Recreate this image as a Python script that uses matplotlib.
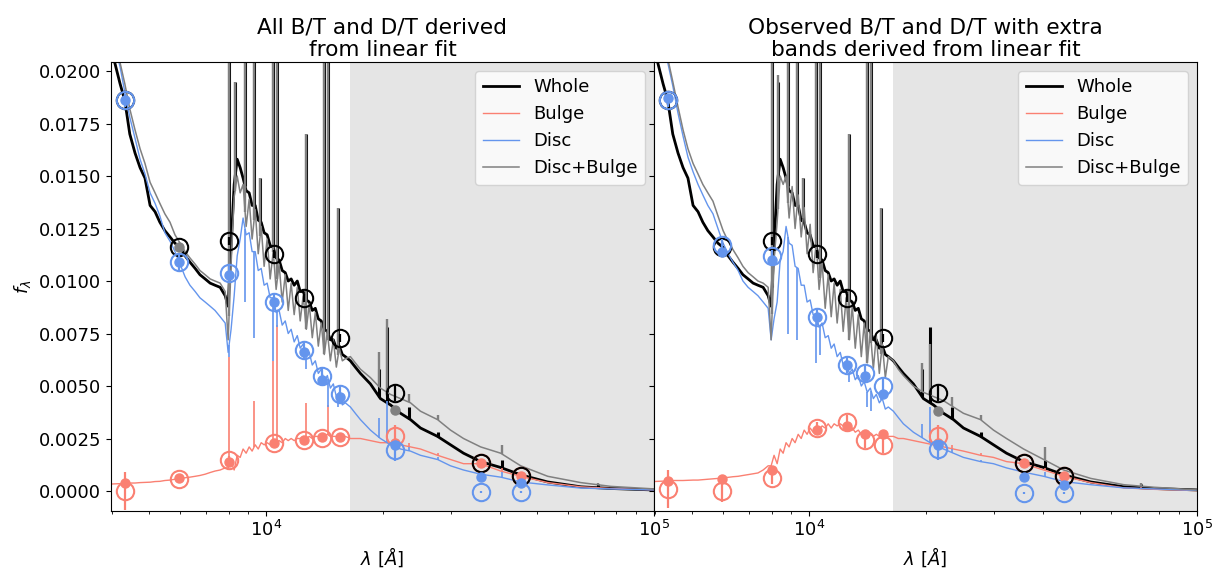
import numpy as np
import matplotlib
matplotlib.use("Agg")
import matplotlib.pyplot as plt
from matplotlib.ticker import FormatStrFormatter, MultipleLocator

nan = np.nan

# ---------------------------------------------------------------- spectra
# wavelength grid [Angstrom]
wave = [3980, 4070, 4200, 4320, 4450, 4590, 4730, 4870, 5020, 5170, 5320, 5480,
        5650, 5820, 6000, 6180, 6360, 6560, 6750, 6960, 7170, 7380, 7610, 7840,
        7980, 8120, 8270, 8420, 8570, 8720, 8880, 9040, 9200, 9370, 9540, 9710,
        9880, 10060, 10240, 10430, 10610, 10800, 11000, 11200, 11400, 11600,
        11810, 12030, 12240, 12460, 12690, 12920, 13150, 13390, 13630, 13870,
        14120, 14380, 14640, 14900, 15170, 15440, 15720, 16000,
        16490, 16980, 17500, 18570, 19710, 20920, 22210, 23560, 25000, 27670,
        29880, 32280, 35730, 40250, 45330, 53220, 64760, 77430, 100000]

# observed whole-galaxy spectrum (same in both panels)
whole_flux = [0.0215, 0.0204, 0.0194, 0.0186, 0.0170, 0.0161, 0.0154, 0.0149, 0.0136, 0.0133,
              0.0128, 0.0124, 0.0121, 0.0118, 0.0116, 0.0112, 0.0109, 0.0106, 0.0103, 0.0101,
              0.0099, 0.0098, 0.0097, 0.0093,
              0.0088, 0.0117, 0.0146, 0.0158, 0.0154, 0.0149, 0.0143, 0.0142, 0.0136, 0.0136,
              0.0129, 0.0128, 0.0123, 0.0122, 0.0117, 0.0116, 0.0111, 0.0110, 0.0105, 0.0104,
              0.0100, 0.0101, 0.0098, 0.0100, 0.0095, 0.0095, 0.0091, 0.0090, 0.0086, 0.0087,
              0.0082, 0.0081, 0.0077, 0.0076, 0.0072, 0.0072, 0.0068, 0.0069, 0.0065, 0.0064,
              0.0062, 0.0059, 0.0056, 0.0051, 0.0044, 0.0041, 0.0037, 0.0034, 0.0030, 0.0026,
              0.0022, 0.0018, 0.0014, 0.00112, 0.00077, 0.00043, 0.0002, 0.00012, 0.00005]

# left panel: all B/T, D/T from the linear fit
bulge_flux_fit = [0.00033, 0.00034, 0.00035, 0.00037, 0.00038, 0.00038, 0.0004, 0.00041, 0.00042, 0.00045,
                  0.00046, 0.0005, 0.00052, 0.00056, 0.0006, 0.00063, 0.00066, 0.0007, 0.00074, 0.0008,
                  0.00088, 0.00095, 0.0010, 0.0011,
                  0.0011, 0.0014, 0.0010, 0.0017, 0.0016, 0.0020, 0.0018, 0.0021, 0.0019, 0.0022,
                  0.0020, 0.0023, 0.0022, 0.0023, 0.0022, 0.0024, 0.0023, 0.0024, 0.0023, 0.0025,
                  0.0024, 0.0025, 0.0024, 0.0025, 0.0025, 0.0026, 0.0025, 0.0026, 0.0025, 0.0026,
                  0.0026, 0.0026, 0.0026, 0.0027, 0.0026, 0.0026, 0.0026, 0.0026, 0.0026, 0.0026,
                  0.0025, 0.0025, 0.0025, 0.0024, 0.0023, 0.0023, 0.0022, 0.0021, 0.0020, 0.0017,
                  0.0015, 0.0013, 0.0013, 0.00095, 0.0007, 0.0004, 0.0002, 0.00012, 0.00005]
disc_flux_fit = [0.0222, 0.0212, 0.0202, 0.0190, 0.0178, 0.0168, 0.0158, 0.0151, 0.0142, 0.0137,
                 0.0131, 0.0123, 0.0119, 0.0114, 0.0108, 0.0102, 0.0098, 0.0095, 0.0092, 0.0090,
                 0.0088, 0.0086, 0.0083, 0.0080,
                 0.0066, 0.0077, 0.0093, 0.0112, 0.0120, 0.0130, 0.0122, 0.0123, 0.0114, 0.0114,
                 0.0105, 0.0106, 0.0098, 0.0099, 0.0092, 0.0092, 0.0085, 0.0086, 0.0079, 0.0081,
                 0.0075, 0.0077, 0.0071, 0.0074, 0.0068, 0.0070, 0.0064, 0.0066, 0.0060, 0.0062,
                 0.0056, 0.0058, 0.0052, 0.0055, 0.0049, 0.0051, 0.0045, 0.0047, 0.0041, 0.0042,
                 0.0040, 0.0037, 0.0034, 0.0029, 0.0025, 0.0022, 0.0020, 0.0019, 0.0017, 0.0015,
                 0.0012, 0.0010, 0.0008, 0.00066, 0.00043, 0.00029, 0.00014, 0.0001, 0.00005]
sum_flux_fit = [0.0222, 0.0213, 0.0204, 0.0194, 0.0182, 0.0172, 0.0163, 0.0156, 0.0147, 0.0142,
                0.0137, 0.0132, 0.0128, 0.0122, 0.0118, 0.0114, 0.0111, 0.0108, 0.0105, 0.0103,
                0.0101, 0.0100, 0.0099, 0.0095,
                0.0072, 0.0108, 0.0140, 0.0150, 0.0142, 0.0146, 0.0126, 0.0139, 0.0120, 0.0134,
                0.0113, 0.0126, 0.0107, 0.0120, 0.0101, 0.0114, 0.0096, 0.0108, 0.0090, 0.0103,
                0.0086, 0.0099, 0.0084, 0.0097, 0.0081, 0.0093, 0.0077, 0.0089, 0.0073, 0.0085,
                0.0069, 0.0080, 0.0065, 0.0076, 0.0062, 0.0072, 0.0059, 0.0068, 0.0062, 0.0063,
                0.0064, 0.0061, 0.0058, 0.0054, 0.0049, 0.0046, 0.0044, 0.0042, 0.0038, 0.0034,
                0.0029, 0.0025, 0.0021, 0.0018, 0.0012, 0.0007, 0.0004, 0.00022, 0.0001]

# right panel: observed B/T, D/T plus extra bands from the fit
bulge_flux_obs = [0.00045, 0.00046, 0.00047, 0.00048, 0.0005, 0.0005, 0.0005, 0.00051, 0.00052, 0.00052,
                  0.00054, 0.00056, 0.00058, 0.0006, 0.00063, 0.00065, 0.00068, 0.0007, 0.00074, 0.00078,
                  0.00082, 0.00086, 0.0010, 0.0012,
                  0.0012, 0.0017, 0.0013, 0.0020, 0.0018, 0.0023, 0.0021, 0.0025, 0.0023, 0.0027,
                  0.0025, 0.0029, 0.0027, 0.0030, 0.0028, 0.0031, 0.0029, 0.0031, 0.0030, 0.0032,
                  0.0030, 0.0032, 0.0031, 0.0032, 0.0031, 0.0032, 0.0029, 0.0030, 0.0028, 0.0029,
                  0.0027, 0.0028, 0.0026, 0.0027, 0.0026, 0.0027, 0.0026, 0.0026, 0.0025, 0.0026,
                  0.0026, 0.0025, 0.0025, 0.0024, 0.0023, 0.0022, 0.0021, 0.0020, 0.0019, 0.0017,
                  0.0016, 0.0014, 0.0013, 0.0010, 0.0007, 0.0004, 0.00015, 0.00008, 0.00002]
disc_flux_obs = [0.0238, 0.0230, 0.0219, 0.0204, 0.0193, 0.0180, 0.0169, 0.0159, 0.0152, 0.0146,
                 0.0141, 0.0136, 0.0132, 0.0125, 0.0118, 0.0113, 0.0109, 0.0105, 0.0100, 0.0097,
                 0.0095, 0.0093, 0.0090, 0.0087,
                 0.0072, 0.0082, 0.0090, 0.0110, 0.0114, 0.0126, 0.0118, 0.0117, 0.0107, 0.0106,
                 0.0098, 0.0098, 0.0090, 0.0091, 0.0084, 0.0084, 0.0078, 0.0080, 0.0073, 0.0074,
                 0.0068, 0.0070, 0.0064, 0.0066, 0.0060, 0.0062, 0.0056, 0.0058, 0.0053, 0.0055,
                 0.0050, 0.0052, 0.0047, 0.0049, 0.0044, 0.0046, 0.0042, 0.0044, 0.0039, 0.0040,
                 0.0038, 0.0035, 0.0032, 0.0028, 0.0025, 0.0022, 0.0020, 0.0018, 0.0016, 0.0014,
                 0.0013, 0.0011, 0.0009, 0.0007, 0.00045, 0.0003, 0.00015, 0.0001, 0.00003]
sum_flux_obs = [0.0240, 0.0232, 0.0221, 0.0206, 0.0195, 0.0183, 0.0172, 0.0163, 0.0156, 0.0151,
                0.0146, 0.0142, 0.0138, 0.0131, 0.0124, 0.0119, 0.0115, 0.0111, 0.0107, 0.0104,
                0.0102, 0.0100, 0.0099, 0.0097,
                0.0072, 0.0110, 0.0128, 0.0150, 0.0146, 0.0150, 0.0130, 0.0145, 0.0125, 0.0141,
                0.0121, 0.0135, 0.0113, 0.0127, 0.0104, 0.0118, 0.0096, 0.0109, 0.0087, 0.0103,
                0.0083, 0.0099, 0.0080, 0.0096, 0.0076, 0.0092, 0.0072, 0.0088, 0.0068, 0.0084,
                0.0064, 0.0080, 0.0061, 0.0076, 0.0058, 0.0074, 0.0056, 0.0070, 0.0054, 0.0064,
                0.0062, 0.0058, 0.0055, 0.0050, 0.0047, 0.0045, 0.0043, 0.0040, 0.0037, 0.0034,
                0.0029, 0.0025, 0.0020, 0.0015, 0.0010, 0.0006, 0.0003, 0.00018, 0.00005]

# ---------------------------------------------------------------- emission features
line_wave = [8025, 8313, 8824, 9311, 9650, 10425, 10690, 12690, 14122, 14460, 15350,
             19590, 20540, 23400, 27700, 40450, 71600]
whole_peak = [0.03, 0.0195, 0.03, 0.03, 0.0149, 0.03, 0.03, 0.0170, 0.03, 0.03, 0.0135,
              0.0058, 0.0078, 0.0040, 0.0028, 0.0015, 0.00035]
sum_peak_fit = [0.03, 0.0195, 0.03, 0.03, 0.0149, 0.03, 0.03, 0.0170, 0.03, 0.03, 0.0135,
                0.0066, 0.0082, 0.0046, 0.0036, 0.0022, 0.0004]
sum_peak_obs = [0.03, 0.0198, 0.03, 0.03, 0.0149, 0.03, 0.03, 0.0170, 0.03, 0.03, 0.0135,
                0.0061, 0.0070, 0.0045, 0.0036, 0.0021, 0.0004]
disc_peak_fit = [nan, nan, nan, nan, nan, nan, nan, nan, nan, nan, nan,
                 0.0035, 0.0043, 0.0021, 0.0016, 0.0009, 0.00015]
disc_peak_obs = [nan, nan, nan, nan, nan, nan, nan, nan, nan, nan, nan,
                 0.0032, 0.0040, 0.0020, 0.0015, 0.0009, 0.00015]
bulge_peak_fit = [0.0064, nan, nan, 0.0043, nan, 0.0062, 0.0079, 0.0042, nan, 0.0041, nan,
                  nan, nan, 0.0023, 0.0018, 0.0011, 0.0002]
bulge_peak_obs = [nan, nan, nan, nan, nan, nan, nan, nan, nan, nan, nan,
                  nan, nan, 0.0022, 0.0018, 0.0011, 0.0002]
disc_dip_fit = [0.0064, nan, 0.0090, 0.0073, nan, 0.0062, 0.0078, 0.0058, 0.0051, 0.0040, 0.0040,
                nan, nan, nan, nan, nan, nan]
disc_dip_obs = [nan, nan, 0.0075, 0.0072, nan, 0.0061, 0.0065, 0.0052, 0.0040, 0.0038, 0.0045,
                nan, nan, nan, nan, nan, nan]

# ---------------------------------------------------------------- photometry
band_wave = [4320, 5960, 8020, 10490, 12540, 13950, 15530, 21540, 35750, 45300]

whole_phot = [0.0186, 0.0116, 0.0119, 0.0113, 0.0092, nan, 0.0073, 0.00467, 0.00133, 0.00071]
whole_err = [0.0002, 0.0002, 0.0002, 0.0002, 0.0002, nan, 0.0002, 0.0004, 0.0001, 0.0001]

bulge_phot_fit = [0.0000, 0.00057, 0.00148, 0.00229, 0.00243, 0.00252, 0.00257, 0.00262, 0.00133, 0.00071]
bulge_err_fit = [0.0009, 0.0002, 0.0002, 0.0002, 0.0002, 0.0002, 0.0002, 0.0005, 0.0001, 0.0001]
bulge_model_fit = [0.00038, 0.00062, 0.0014, 0.0023, 0.00243, 0.00257, 0.00257, 0.0023, 0.00133, 0.00071]
disc_phot_fit = [0.0186, 0.0109, 0.0104, 0.0090, 0.0067, 0.0055, 0.0046, 0.00195, -0.00005, -0.00005]
disc_err_fit = [0.0003, 0.0004, 0.0004, 0.0004, 0.0004, 0.0004, 0.0004, 0.0005, 0.00005, 0.00005]
disc_model_fit = [0.0186, 0.0109, 0.0103, 0.0090, 0.0066, 0.0053, 0.0045, 0.0022, 0.00067, 0.00038]
sum_model_fit = [nan, 0.0116, nan, nan, nan, nan, nan, 0.00386, nan, nan]

bulge_phot_obs = [0.0001, 0.0000, 0.00062, 0.0030, 0.0033, 0.00243, 0.00219, 0.00262, 0.00133, 0.00071]
bulge_err_obs = [0.0009, 0.0005, 0.0003, 0.0003, 0.0003, 0.0004, 0.0004, 0.0005, 0.0001, 0.0001]
bulge_model_obs = [0.0005, 0.00055, 0.0010, 0.0029, 0.0031, 0.0027, 0.0027, 0.0023, 0.00133, 0.00071]
disc_phot_obs = [0.0186, 0.0117, 0.0112, 0.0083, 0.0060, 0.0056, 0.0050, 0.0020, -0.0001, -0.0001]
disc_err_obs = [0.0003, 0.0003, 0.0003, 0.0004, 0.0004, 0.0004, 0.0004, 0.0005, 0.00005, 0.00005]
disc_model_obs = [0.0187, 0.0114, 0.0110, 0.0083, 0.0060, 0.0055, 0.0046, 0.0022, 0.00067, 0.0003]
sum_model_obs = [nan, nan, nan, nan, nan, nan, nan, 0.0038, nan, nan]

titles = ["All B/T and D/T derived\nfrom linear fit",
          "Observed B/T and D/T with extra\nbands derived from linear fit"]

# ---------------------------------------------------------------- drawing
C_WHOLE, C_BULGE, C_DISC, C_SUM = "black", "salmon", "cornflowerblue", "grey"

plt.rcParams["font.family"] = ["DejaVu Sans"]
plt.rcParams["font.size"] = 13

fig, axes = plt.subplots(1, 2, figsize=(12.25, 5.71), dpi=100, sharey=True)
fig.subplots_adjust(left=0.0906, right=0.9771, top=0.8914, bottom=0.1059, wspace=0)

panels = [
    dict(bulge=bulge_flux_fit, disc=disc_flux_fit, tot=sum_flux_fit,
         sum_peak=sum_peak_fit, disc_peak=disc_peak_fit, bulge_peak=bulge_peak_fit,
         disc_dip=disc_dip_fit,
         bphot=bulge_phot_fit, berr=bulge_err_fit, bmod=bulge_model_fit,
         dphot=disc_phot_fit, derr=disc_err_fit, dmod=disc_model_fit, smod=sum_model_fit),
    dict(bulge=bulge_flux_obs, disc=disc_flux_obs, tot=sum_flux_obs,
         sum_peak=sum_peak_obs, disc_peak=disc_peak_obs, bulge_peak=bulge_peak_obs,
         disc_dip=disc_dip_obs,
         bphot=bulge_phot_obs, berr=bulge_err_obs, bmod=bulge_model_obs,
         dphot=disc_phot_obs, derr=disc_err_obs, dmod=disc_model_obs, smod=sum_model_obs),
]

lw_arr = np.array(line_wave, dtype=float)


def spikes(ax, flux, tops, color, lw, z):
    tops = np.array(tops, dtype=float)
    ok = ~np.isnan(tops)
    base = np.interp(lw_arr[ok], wave, flux)
    ax.vlines(lw_arr[ok], base, tops[ok], color=color, lw=lw, zorder=z)


def dips(ax, flux, bottoms, color, lw, z):
    bottoms = np.array(bottoms, dtype=float)
    ok = ~np.isnan(bottoms)
    base = np.interp(lw_arr[ok], wave, flux)
    ax.vlines(lw_arr[ok], bottoms[ok], base, color=color, lw=lw, zorder=z)


def photometry(ax, vals, errs, color, z):
    ax.errorbar(band_wave, vals, yerr=errs, fmt="o", ms=12.5, mfc="none", mec=color,
                mew=1.5, ecolor=color, elinewidth=1.6, capsize=0, zorder=z)


for ax, p, title in zip(axes, panels, titles):
    ax.axvspan(16500, 1e5, color="grey", alpha=0.2, lw=0, zorder=0)

    h_whole, = ax.plot(wave, whole_flux, color=C_WHOLE, lw=2, label="Whole", zorder=2)
    spikes(ax, whole_flux, whole_peak, C_WHOLE, 2.2, 2)

    h_bulge, = ax.plot(wave, p["bulge"], color=C_BULGE, lw=1, label="Bulge", zorder=2.1)
    spikes(ax, p["bulge"], p["bulge_peak"], C_BULGE, 1.2, 2.1)

    h_disc, = ax.plot(wave, p["disc"], color=C_DISC, lw=1, label="Disc", zorder=2.2)
    spikes(ax, p["disc"], p["disc_peak"], C_DISC, 1.2, 2.2)
    dips(ax, p["disc"], p["disc_dip"], C_DISC, 1.2, 2.2)

    h_sum, = ax.plot(wave, p["tot"], color=C_SUM, lw=1.1, label="Disc+Bulge", zorder=2.3)
    spikes(ax, p["tot"], p["sum_peak"], C_SUM, 1.7, 2.3)

    # photometry: open circles are measured fluxes, dots are model fluxes
    photometry(ax, p["bphot"], p["berr"], C_BULGE, 3)
    photometry(ax, whole_phot, whole_err, C_WHOLE, 3.1)
    photometry(ax, p["dphot"], p["derr"], C_DISC, 3.2)
    ax.plot(band_wave, p["bmod"], "o", color=C_BULGE, ms=6.5, zorder=3.3)
    ax.plot(band_wave, p["dmod"], "o", color=C_DISC, ms=6.5, zorder=3.4)
    ax.plot(band_wave, p["smod"], "o", color=C_SUM, ms=6.5, zorder=3.5)

    ax.set_xscale("log")
    ax.set_xlim(3980, 1e5)
    ax.set_ylim(-0.00093, 0.02043)
    ax.set_xlabel(r"$\lambda$ [$\AA$]")
    ax.set_title(title, fontsize=15.6, pad=4)
    ax.legend(handles=[h_whole, h_bulge, h_disc, h_sum], loc="upper right", fontsize=13)

axes[0].yaxis.set_major_locator(MultipleLocator(0.0025))
axes[0].yaxis.set_major_formatter(FormatStrFormatter("%.4f"))
axes[0].set_ylabel(r"$f_\lambda$")

fig.savefig("out.png", dpi=100)
